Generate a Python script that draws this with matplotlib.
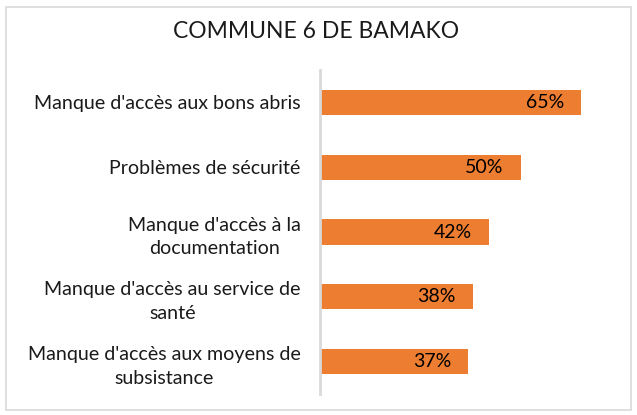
import matplotlib
matplotlib.use("Agg")
import matplotlib.pyplot as plt
from matplotlib.patches import Rectangle

plt.rcParams['font.family'] = ['Lato', 'DejaVu Sans']

title = "COMMUNE 6 DE BAMAKO"
categories = [
    "Manque d'accès aux bons abris",
    "Problèmes de sécurité",
    "Manque d'accès à la\ndocumentation",
    "Manque d'accès au service de\nsanté",
    "Manque d'accès aux moyens de\nsubsistance",
]
values = [65, 50, 42, 38, 37]

W, H = 637, 415
fig = plt.figure(figsize=(W / 100, H / 100), dpi=100)
fig.patch.set_facecolor('white')

# outer border
fig.add_artist(Rectangle((6 / W, 5 / H), 625 / W, 403 / H, transform=fig.transFigure,
                         fill=False, edgecolor='#D9D9D9', linewidth=1.2))

ax = fig.add_axes([320 / W, (415 - 394) / H, 301 / W, 324 / H])
y = list(range(len(categories)))
ax.barh(y, values, height=0.39, color='#ED7D31')
ax.set_ylim(len(categories) - 0.5, -0.5)
ax.set_xlim(0, 75)

for s in ['top', 'right', 'bottom']:
    ax.spines[s].set_visible(False)
ax.spines['left'].set_color('#D9D9D9')
ax.spines['left'].set_linewidth(2)
ax.set_xticks([])
ax.set_yticks(y)
ax.set_yticklabels(categories, fontsize=14.1, color='#1a1a1a', multialignment='center',
                   linespacing=1.5)
ax.tick_params(axis='y', length=0, pad=14)

for yi, v in zip(y, values):
    ax.annotate(f"{v}%", xy=(v, yi), xytext=(-17, 0), textcoords='offset pixels',
                ha='right', va='center', fontsize=14, color='#000000')

fig.text(316 / W, 1 - 31 / H, title, ha='center', va='center', fontsize=16.5, color='#1a1a1a')

fig.savefig('out.png', dpi=100)
